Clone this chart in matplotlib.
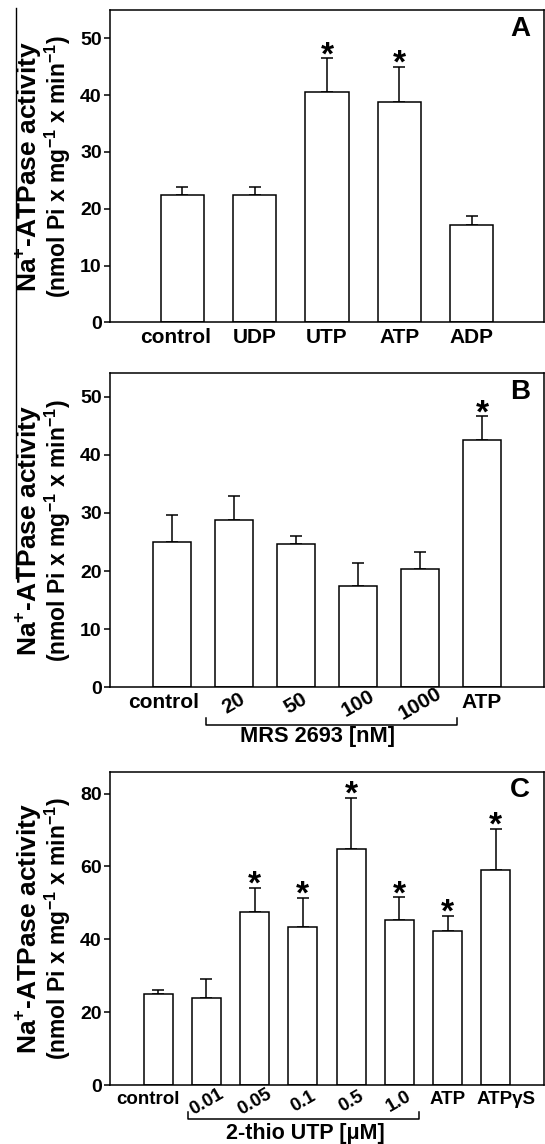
import matplotlib
matplotlib.use("Agg")
import matplotlib.pyplot as plt
import matplotlib.transforms as mtransforms
from matplotlib.lines import Line2D
import numpy as np

plt.rcParams["font.family"] = ["Liberation Sans", "DejaVu Sans"]
plt.rcParams["font.weight"] = "bold"
plt.rcParams["mathtext.fontset"] = "custom"
plt.rcParams["mathtext.rm"] = "Liberation Sans:bold"
plt.rcParams["mathtext.bf"] = "Liberation Sans:bold"

# ---- data ----
a_labels = ["control", "UDP", "UTP", "ATP", "ADP"]
a_mean = [22.5, 22.5, 40.6, 38.8, 17.2]
a_sem = [1.4, 1.3, 5.9, 6.2, 1.5]
a_sig = [False, False, True, True, False]

b_labels = ["control", "20", "50", "100", "1000", "ATP"]
b_mean = [25.0, 28.8, 24.6, 17.4, 20.3, 42.6]
b_sem = [4.7, 4.1, 1.5, 4.0, 3.0, 4.0]
b_sig = [False, False, False, False, False, True]

c_labels = ["control", "0.01", "0.05", "0.1", "0.5", "1.0", "ATP", "ATPγS"]
c_mean = [25.0, 23.8, 47.5, 43.4, 64.8, 45.2, 42.4, 59.1]
c_sem = [1.1, 5.4, 6.7, 8.0, 14.1, 6.4, 4.1, 11.3]
c_sig = [False, False, True, True, True, True, True, True]

YLAB1 = r"Na$^{+}$-ATPase activity"
YLAB2 = r"(nmol Pi x mg$^{-1}$ x min$^{-1}$)"

W, H = 545, 1144
LW = 1.1


def shift(lab, dx_px, dy_px):
    off = mtransforms.ScaledTranslation(dx_px / 100, dy_px / 100, fig.dpi_scale_trans)
    lab.set_transform(lab.get_transform() + off)


def panel(rect, labels, mean, sem, sig, ylim, yticks, letter, rotated=(),
          lab_size=15, nudge=None):
    ax = fig.add_axes(rect)
    x = np.arange(len(mean))
    ax.bar(x, mean, width=0.6, color="white", edgecolor="black", linewidth=LW, zorder=2)
    ax.errorbar(x, mean, yerr=[np.zeros(len(sem)), sem], fmt="none", ecolor="black",
                elinewidth=LW, capsize=4, capthick=LW, zorder=1)
    for xi, m, s, flag in zip(x, mean, sem, sig):
        if flag:
            ax.annotate("*", xy=(xi, m + s), xytext=(0, -4.5), textcoords="offset points",
                        ha="center", va="baseline", fontsize=24, fontweight="bold")
    ax.set_xlim(-1, len(mean))
    ax.set_ylim(*ylim)
    ax.set_yticks(yticks)
    ax.set_xticks(x)
    ax.set_xticklabels(labels)
    for spine in ax.spines.values():
        spine.set_linewidth(LW)
    ax.tick_params(axis="y", direction="out", length=4, width=LW, labelsize=14, pad=2)
    ax.tick_params(axis="x", length=0, labelsize=lab_size, pad=4)
    nudge = nudge or {}
    for lab, text in zip(ax.get_xticklabels(), labels):
        if text in rotated:
            lab.set_rotation(30)
            lab.set_ha("center")
            lab.set_va("center")
            shift(lab, 0, -11)
        if text in nudge:
            shift(lab, nudge[text], 0)
    ax.text(0.945, 0.94, letter, transform=ax.transAxes, fontsize=20,
            fontweight="bold", ha="center", va="center")
    return ax


def bracket(ax, x0, x1, y, tick, text, tx, ty, size):
    tr = mtransforms.blended_transform_factory(ax.transData, ax.transAxes)
    ax.plot([x0, x0, x1, x1], [y + tick, y, y, y + tick], color="black", lw=LW,
            transform=tr, clip_on=False)
    ax.text(tx, ty, text, transform=tr, ha="center", va="center", fontsize=size,
            fontweight="bold")


def ylabels(y_top, y_bot):
    yc = 1 - (y_top + y_bot) / 2 / H
    fig.text(28 / W, yc, YLAB1, rotation=90, ha="center", va="center", fontsize=19)
    fig.text(58 / W, yc, YLAB2, rotation=90, ha="center", va="center", fontsize=16.5)


fig = plt.figure(figsize=(W / 100, H / 100), dpi=100, facecolor="white")

left, width = 110 / W, 434 / W

# Panel A
ax_a = panel([left, 1 - 322.3 / H, width, 312.3 / H], a_labels, a_mean, a_sem, a_sig,
             (0, 55), range(0, 51, 10), "A", nudge={"control": -7})
ylabels(10, 322.3)

# Panel B
ax_b = panel([left, 1 - 687.3 / H, width, 314 / H], b_labels, b_mean, b_sem, b_sig,
             (0, 54), range(0, 51, 10), "B", rotated=b_labels[1:5],
             nudge={"control": -8})
ylabels(373.3, 687.3)
bracket(ax_b, 0.55, 4.59, -0.12, 0.022, "MRS 2693 [nM]", 2.35, -0.157, 15.7)

# Panel C
ax_c = panel([left, 1 - 1085 / H, width, 313.3 / H], c_labels, c_mean, c_sem, c_sig,
             (0, 86), range(0, 81, 20), "C", rotated=c_labels[1:6], lab_size=13.5,
             nudge={"control": -10, "ATPγS": 10})
ylabels(771.7, 1085)
bracket(ax_c, 0.62, 5.40, -0.11, 0.024, "2-thio UTP [μM]", 3.05, -0.156, 15.5)

# thin rule at the left edge of the scanned page
fig.add_artist(Line2D([16 / W, 16 / W], [1 - 8 / H, 1 - 578 / H],
                      transform=fig.transFigure, color="black", lw=1))

fig.savefig("out.png", dpi=100, facecolor="white")
